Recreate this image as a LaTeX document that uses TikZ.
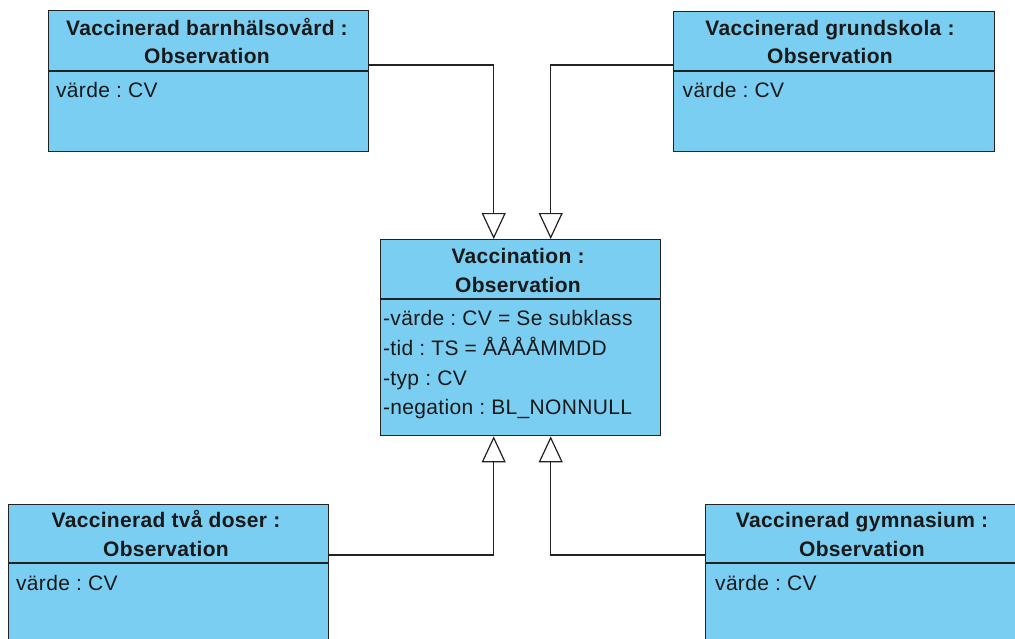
\documentclass[tikz,border=0pt]{standalone}
\usepackage{fontspec}
\setmainfont{Liberation Sans}[LetterSpace=1.5]
\frenchspacing
\usetikzlibrary{arrows.meta,positioning,calc}
\definecolor{boxblue}{RGB}{122,206,242}
\definecolor{edge}{RGB}{34,34,34}
\definecolor{txt}{RGB}{25,25,25}
\tikzset{
  classbox/.style={draw=edge, line width=1.4pt, fill=boxblue, anchor=north west, inner sep=0pt},
  titleline/.style={font=\fontsize{21}{28}\selectfont\bfseries, text=txt, inner sep=0pt, anchor=base},
  attrline/.style={font=\fontsize{21}{30}\selectfont, text=txt, inner sep=0pt, anchor=base west},
  divider/.style={draw=edge, line width=1.4pt},
  gen/.style={draw=edge, line width=1.2pt, -{Triangle[open, length=26pt, width=24pt, fill=white]}},
}
\begin{document}
\begin{tikzpicture}[x=1pt, y=-1pt]
\useasboundingbox (0,0) rectangle (1015,638);
\clip (0,0) rectangle (1015,638);
\fill[white] (0,0) rectangle (1015,638);
% top left
\node[classbox, minimum width=320pt, minimum height=141pt] (tl) at (48,10) {};
\draw[divider] (48,71) -- (368,71);
\node[titleline] (tlt1) at (207,35) {Vaccinerad barnhälsovård :};
\node[titleline] (tlt2) at (207,63.5) {Observation};
\node[attrline] (tla) at (56,97.5) {värde : CV};
% top right
\node[classbox, minimum width=321pt, minimum height=140pt] (tr) at (673,11) {};
\draw[divider] (673,71) -- (994,71);
\node[titleline] (trt1) at (830,35) {Vaccinerad grundskola :};
\node[titleline] (trt2) at (830,63.5) {Observation};
\node[attrline] (tra) at (682.5,97.5) {värde : CV};
% center
\node[classbox, minimum width=280pt, minimum height=196pt] (c) at (380,239) {};
\draw[divider] (380,299) -- (660,299);
\node[titleline] (ct1) at (518,263) {Vaccination :};
\node[titleline] (ct2) at (518,292) {Observation};
\node[attrline] (ca1) at (383,325.5) {-värde : CV = Se subklass};
\node[attrline] (ca2) at (383,355.5) {-tid : TS = ÅÅÅÅMMDD};
\node[attrline] (ca3) at (383,385) {-typ : CV};
\node[attrline] (ca4) at (383,414.5) {-negation : BL\_NONNULL};
% bottom left
\node[classbox, minimum width=320pt, minimum height=150pt] (bl) at (8,504) {};
\draw[divider] (8,563) -- (328,563);
\node[titleline] (blt1) at (166,527.5) {Vaccinerad två doser :};
\node[titleline] (blt2) at (166,556) {Observation};
\node[attrline] (bla) at (16,590) {värde : CV};
% bottom right
\node[classbox, minimum width=330pt, minimum height=150pt] (br) at (705,504) {};
\draw[divider] (705,563) -- (1035,563);
\node[titleline] (brt1) at (862,527.5) {Vaccinerad gymnasium :};
\node[titleline] (brt2) at (862,556) {Observation};
\node[attrline] (bra) at (715,590) {värde : CV};
% connectors
\draw[gen] ($(tl.north east)+(0,55)$) -| ([xshift=-27pt]c.north);
\draw[gen] ($(tr.north west)+(0,54)$) -| ([xshift=30pt]c.north);
\draw[gen] ($(bl.north east)+(0,51)$) -| ([xshift=-27pt]c.south);
\draw[gen] ($(br.north west)+(0,51)$) -| ([xshift=30pt]c.south);
\end{tikzpicture}
\end{document}
